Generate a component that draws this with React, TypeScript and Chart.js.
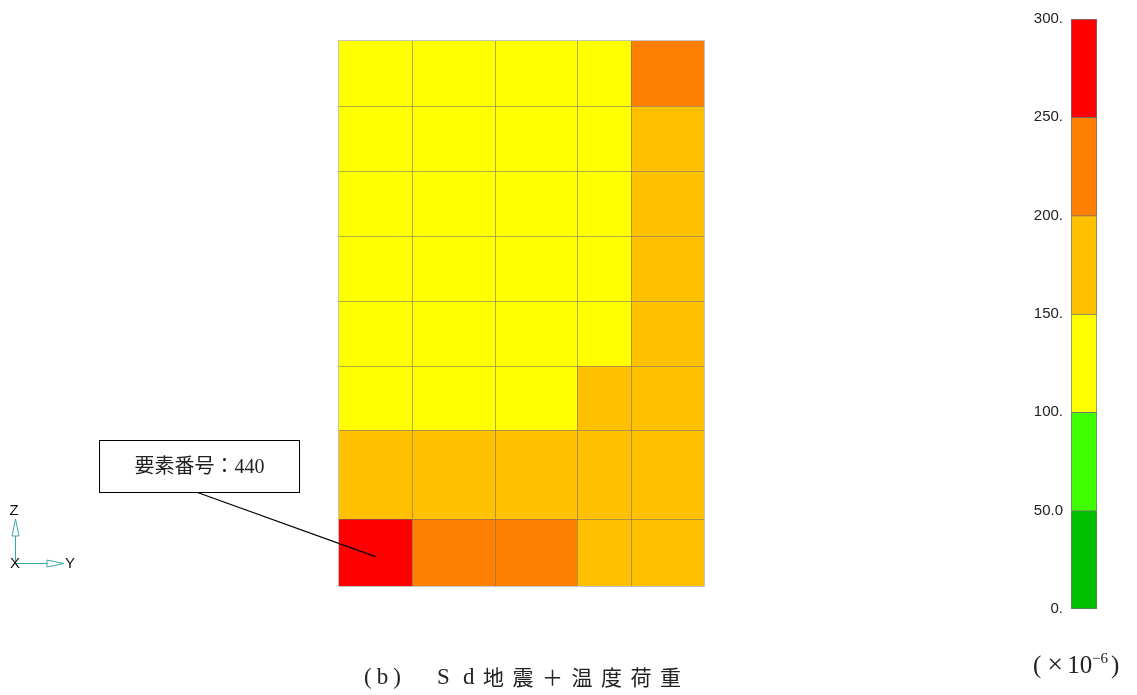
import { useEffect, useRef } from "react";
import { Chart, registerables } from "chart.js";

Chart.register(...registerables);

// Mesh node coordinates of the wall panel (mm): horizontal (Y) and vertical (Z)
const yEdges = [0, 730, 1560, 2375, 2920, 3650];
const zEdges = [0, 667, 1557, 2203, 2852, 3501, 4150, 4799, 5450];

// Element strain (×10^-6), one list per element row, bottom row first
const strainRow1 = [262, 228, 221, 183, 176];
const strainRow2 = [172, 168, 163, 158, 171];
const strainRow3 = [142, 138, 133, 152, 168];
const strainRow4 = [131, 127, 124, 141, 166];
const strainRow5 = [128, 124, 121, 137, 170];
const strainRow6 = [129, 125, 122, 138, 175];
const strainRow7 = [133, 129, 127, 142, 184];
const strainRow8 = [138, 134, 132, 147, 212];
const strainRows = [
  strainRow1,
  strainRow2,
  strainRow3,
  strainRow4,
  strainRow5,
  strainRow6,
  strainRow7,
  strainRow8,
];

// Contour levels and their fill colours
const levels = [0, 50, 100, 150, 200, 250, 300];
const levelColors = ["#00C000", "#40FF00", "#FFFF00", "#FFC000", "#FF8000", "#FF0000"];
const levelLabels = ["0.", "50.0", "100.", "150.", "200.", "250.", "300."];

// Element picked out by the callout
const calloutId = 440;
const calloutRow = 0;
const calloutCol = 0;

const colorFor = (v: number) => {
  for (let i = 0; i < levelColors.length; i++) {
    if (v < levels[i + 1]) return levelColors[i];
  }
  return levelColors[levelColors.length - 1];
};

const centroids = strainRows.flatMap((row, r) =>
  row.map((_, c) => ({
    x: (yEdges[c] + yEdges[c + 1]) / 2,
    y: (zEdges[r] + zEdges[r + 1]) / 2,
  }))
);

const meshPlugin = {
  id: "meshContour",
  beforeDatasetsDraw(chart: any) {
    const { ctx, scales } = chart;
    const sx = scales.x;
    const sy = scales.y;
    ctx.save();
    strainRows.forEach((row, r) => {
      row.forEach((v, c) => {
        const x0 = Math.round(sx.getPixelForValue(yEdges[c]));
        const x1 = Math.round(sx.getPixelForValue(yEdges[c + 1]));
        const yt = Math.round(sy.getPixelForValue(zEdges[r + 1]));
        const yb = Math.round(sy.getPixelForValue(zEdges[r]));
        ctx.fillStyle = colorFor(v);
        ctx.fillRect(x0, yt, x1 - x0, yb - yt);
      });
    });
    // element edges
    ctx.strokeStyle = "rgba(110,110,110,0.55)";
    ctx.lineWidth = 1;
    const left = Math.round(sx.getPixelForValue(yEdges[0]));
    const right = Math.round(sx.getPixelForValue(yEdges[yEdges.length - 1]));
    const top = Math.round(sy.getPixelForValue(zEdges[zEdges.length - 1]));
    const bottom = Math.round(sy.getPixelForValue(zEdges[0]));
    ctx.beginPath();
    yEdges.slice(1, -1).forEach((e) => {
      const p = Math.round(sx.getPixelForValue(e)) + 0.5;
      ctx.moveTo(p, top);
      ctx.lineTo(p, bottom);
    });
    zEdges.slice(1, -1).forEach((e) => {
      const p = Math.round(sy.getPixelForValue(e)) + 0.5;
      ctx.moveTo(left, p);
      ctx.lineTo(right, p);
    });
    ctx.stroke();
    ctx.strokeStyle = "#c4c4c4";
    ctx.strokeRect(left - 0.5, top - 0.5, right - left + 1, bottom - top + 1);
    ctx.restore();
  },
  afterDatasetsDraw(chart: any) {
    const { ctx, scales } = chart;
    const sx = scales.x;
    const sy = scales.y;
    ctx.save();
    // callout for the selected element
    const cx = sx.getPixelForValue((yEdges[calloutCol] + yEdges[calloutCol + 1]) / 2);
    const cy = sy.getPixelForValue((zEdges[calloutRow] + zEdges[calloutRow + 1]) / 2) + 4;
    const bx = 99.5;
    const by = 440.5;
    const bw = 200;
    const bh = 52;
    ctx.strokeStyle = "#000";
    ctx.lineWidth = 1.2;
    ctx.beginPath();
    ctx.moveTo(bx + bw / 2 - 2, by + bh);
    ctx.lineTo(cx, cy);
    ctx.stroke();
    ctx.fillStyle = "#fff";
    ctx.fillRect(bx, by, bw, bh);
    ctx.lineWidth = 1;
    ctx.strokeRect(bx, by, bw, bh);
    ctx.fillStyle = "#222";
    ctx.font = '20px "Liberation Serif", "Noto Sans CJK JP", serif';
    ctx.textAlign = "center";
    ctx.textBaseline = "middle";
    ctx.fillText(`要素番号：${calloutId}`, bx + bw / 2, by + bh / 2 + 1);

    // coordinate triad
    const ox = 15.5;
    const oy = 563.5;
    ctx.strokeStyle = "#3aa6a6";
    ctx.lineWidth = 1;
    ctx.beginPath();
    ctx.moveTo(ox, oy);
    ctx.lineTo(ox, 536);
    ctx.moveTo(ox, oy);
    ctx.lineTo(47, oy);
    ctx.stroke();
    ctx.beginPath();
    ctx.moveTo(ox, 519);
    ctx.lineTo(ox - 3.5, 536);
    ctx.lineTo(ox + 3.5, 536);
    ctx.closePath();
    ctx.moveTo(64, oy);
    ctx.lineTo(47, oy - 3.5);
    ctx.lineTo(47, oy + 3.5);
    ctx.closePath();
    ctx.stroke();
    ctx.fillStyle = "#111";
    ctx.font = '15px "Liberation Sans", sans-serif';
    ctx.textAlign = "center";
    ctx.textBaseline = "middle";
    ctx.fillText("Z", 14, 511);
    ctx.fillText("X", 15, 564);
    ctx.fillText("Y", 70, 564);
    ctx.restore();
  },
};

export default function App() {
  const meshRef = useRef<HTMLCanvasElement>(null);
  const barRef = useRef<HTMLCanvasElement>(null);

  useEffect(() => {
    const mesh = new Chart(meshRef.current as HTMLCanvasElement, {
      type: "scatter",
      data: { datasets: [{ data: centroids, pointRadius: 0 }] },
      options: {
        responsive: false,
        animation: false,
        layout: { padding: { left: 339, right: 433, top: 41, bottom: 109 } },
        plugins: { legend: { display: false }, tooltip: { enabled: false } },
        scales: {
          x: { type: "linear", min: yEdges[0], max: yEdges[yEdges.length - 1], display: false },
          y: { type: "linear", min: zEdges[0], max: zEdges[zEdges.length - 1], display: false },
        },
      },
      plugins: [meshPlugin],
    });

    const bar = new Chart(barRef.current as HTMLCanvasElement, {
      type: "bar",
      data: {
        labels: [""],
        datasets: levelColors.map((col, i) => ({
          data: [levels[i + 1] - levels[i]],
          backgroundColor: col,
          borderColor: "rgba(70,70,70,0.75)",
          borderWidth: 1,
          borderSkipped: i === 0 ? false : "start",
          barPercentage: 1,
          categoryPercentage: 1,
        })),
      },
      options: {
        responsive: false,
        animation: false,
        layout: { padding: { left: 0, right: 40, top: 19, bottom: 31 } },
        plugins: { legend: { display: false }, tooltip: { enabled: false } },
        scales: {
          x: { stacked: true, display: false },
          y: {
            stacked: true,
            min: levels[0],
            max: levels[levels.length - 1],
            ticks: {
              stepSize: 50,
              padding: 8,
              color: "#222",
              font: { family: '"Liberation Sans", Arial, sans-serif', size: 15 },
              callback: (v: any) => levelLabels[levels.indexOf(Number(v))],
            },
            grid: { display: false, drawTicks: false },
            border: { display: false },
            afterFit: (s: any) => {
              s.width = 71;
            },
          },
        },
      },
    });

    return () => {
      mesh.destroy();
      bar.destroy();
    };
  }, []);

  const serif = '"Liberation Serif", "DejaVu Serif", "Noto Sans CJK JP", serif';

  return (
    <div
      style={{
        position: "fixed",
        left: 0,
        top: 0,
        width: 1137,
        height: 695,
        background: "#fff",
        overflow: "hidden",
      }}
    >
      <canvas
        ref={meshRef}
        width={1137}
        height={695}
        style={{ position: "absolute", left: 0, top: 0 }}
      />
      <canvas
        ref={barRef}
        width={137}
        height={640}
        style={{ position: "absolute", left: 1000, top: 0 }}
      />
      <div
        style={{
          position: "absolute",
          left: 1033,
          top: 648,
          fontFamily: serif,
          fontSize: 25,
          color: "#222",
          whiteSpace: "nowrap",
          lineHeight: "32px",
        }}
      >
        (<span style={{ margin: "0 4px 0 6px", fontSize: 28 }}>×</span>10
        <sup style={{ fontSize: 15, verticalAlign: "10px", lineHeight: 0 }}>−6</sup>
        <span style={{ marginLeft: 3 }}>)</span>
      </div>
      <div
        style={{
          position: "absolute",
          left: 364,
          top: 662,
          fontFamily: serif,
          fontSize: 23,
          color: "#222",
          whiteSpace: "nowrap",
          lineHeight: "30px",
        }}
      >
        <span style={{ letterSpacing: 5 }}>(b)</span>
        <span style={{ position: "absolute", left: 73 }}>S</span>
        <span style={{ position: "absolute", left: 99 }}>d</span>
        <span style={{ position: "absolute", left: 119, letterSpacing: 8.5, fontSize: 21, top: 1 }}>
          地震＋温度荷重
        </span>
      </div>
    </div>
  );
}
